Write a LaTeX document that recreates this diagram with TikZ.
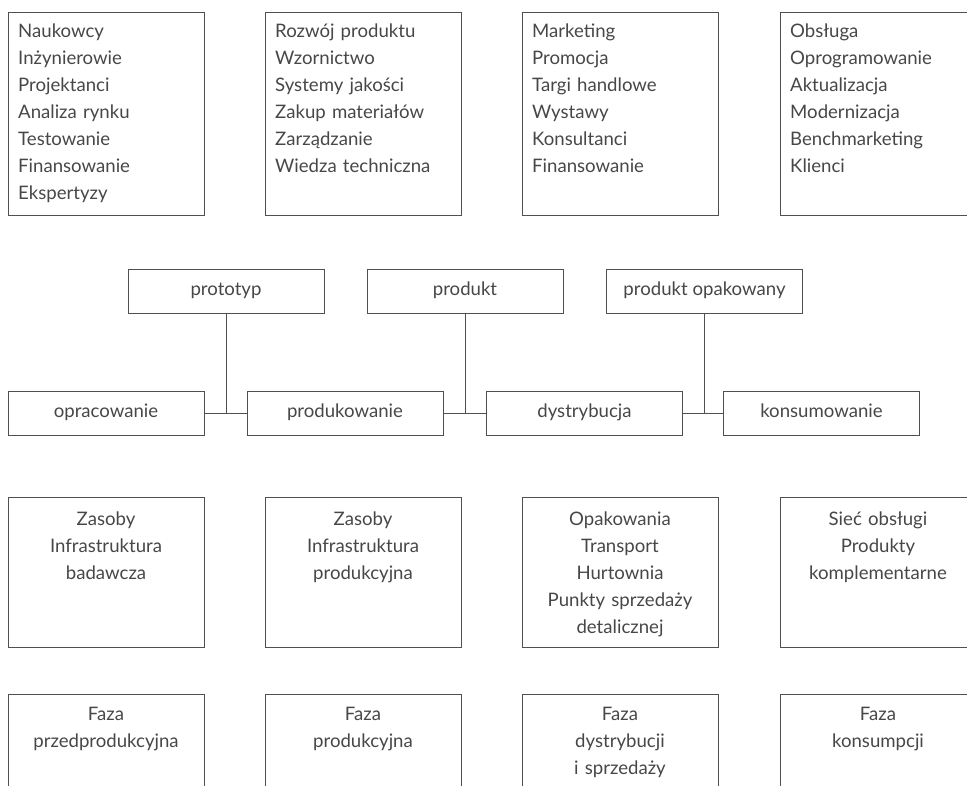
\documentclass[tikz,border=0pt]{standalone}
\usepackage{fontspec}
\setmainfont{Lato}
\definecolor{txt}{HTML}{474747}
\definecolor{ln}{HTML}{505050}
\begin{document}
\begin{tikzpicture}[x=1pt,y=-1pt,
  box/.style={draw=ln,line width=0.9pt,minimum width=196pt,inner sep=0pt,outer sep=0pt},
  listtxt/.style={anchor=base west,inner sep=0pt,text width=185pt,align=left,text=txt,font=\fontsize{18.6}{27}\selectfont},
  ctxt/.style={anchor=base,inner sep=0pt,text width=194pt,align=center,text=txt,font=\fontsize{18.6}{27}\selectfont},
  lab/.style={box,minimum height=44pt,text=txt,text height=13pt,text depth=4pt,font=\fontsize{18.6}{20}\selectfont},
  conn/.style={draw=ln,line width=0.9pt}]
\useasboundingbox (0,0) rectangle (967,786);
\clip (0,0) rectangle (967,786);
% top row
\node[box,minimum height=203pt] (t1) at (106,113.5) {};
\node[box,minimum height=203pt] (t2) at (363,113.5) {};
\node[box,minimum height=203pt] (t3) at (620,113.5) {};
\node[box,minimum height=203pt] (t4) at (878,113.5) {};
\node[listtxt] (t1x) at ([shift={(10,26)}]t1.north west) {Naukowcy\\Inżynierowie\\Projektanci\\Analiza rynku\\Testowanie\\Finansowanie\\Ekspertyzy};
\node[listtxt] (t2x) at ([shift={(10,26)}]t2.north west) {Rozwój produktu\\Wzornictwo\\Systemy jakości\\Zakup materiałów\\Zarządzanie\\Wiedza techniczna};
\node[listtxt] (t3x) at ([shift={(10,26)}]t3.north west) {Marketing\\Promocja\\Targi handlowe\\Wystawy\\Konsultanci\\Finansowanie};
\node[listtxt] (t4x) at ([shift={(10,26)}]t4.north west) {Obsługa\\Oprogramowanie\\Aktualizacja\\Modernizacja\\Benchmarketing\\Klienci};
% middle
\node[lab] (p1) at (226,291) {prototyp};
\node[lab] (p2) at (465,291) {produkt};
\node[lab] (p3) at (704.5,291) {produkt opakowany};
\node[lab] (s1) at (106,413) {opracowanie};
\node[lab] (s2) at (345,413) {produkowanie};
\node[lab] (s3) at (584.5,413) {dystrybucja};
\node[lab] (s4) at (821.5,413) {konsumowanie};
\draw[conn] (s1.east) -- (s2.west);
\draw[conn] (s2.east) -- (s3.west);
\draw[conn] (s3.east) -- (s4.west);
\draw[conn] (p1.south) -- (p1.south |- s1.east);
\draw[conn] (p2.south) -- (p2.south |- s2.east);
\draw[conn] (p3.south) -- (p3.south |- s3.east);
% resources
\node[box,minimum height=150pt] (r1) at (106,572) {};
\node[box,minimum height=150pt] (r2) at (363,572) {};
\node[box,minimum height=150pt] (r3) at (620,572) {};
\node[box,minimum height=150pt] (r4) at (878,572) {};
\node[ctxt] (r1x) at ([shift={(0,28)}]r1.north) {Zasoby\\Infrastruktura\\badawcza};
\node[ctxt] (r2x) at ([shift={(0,28)}]r2.north) {Zasoby\\Infrastruktura\\produkcyjna};
\node[ctxt] (r3x) at ([shift={(0,28)}]r3.north) {Opakowania\\Transport\\Hurtownia\\Punkty sprzedaży\\detalicznej};
\node[ctxt] (r4x) at ([shift={(0,28)}]r4.north) {Sieć obsługi\\Produkty\\komplementarne};
% phases
\node[box,minimum height=140pt] (f1) at (106,764) {};
\node[box,minimum height=140pt] (f2) at (363,764) {};
\node[box,minimum height=140pt] (f3) at (620,764) {};
\node[box,minimum height=140pt] (f4) at (878,764) {};
\node[ctxt] (f1x) at ([shift={(0,26)}]f1.north) {Faza\\przedprodukcyjna};
\node[ctxt] (f2x) at ([shift={(0,26)}]f2.north) {Faza\\produkcyjna};
\node[ctxt] (f3x) at ([shift={(0,26)}]f3.north) {Faza\\dystrybucji\\i sprzedaży};
\node[ctxt] (f4x) at ([shift={(0,26)}]f4.north) {Faza\\konsumpcji};
\end{tikzpicture}
\end{document}
